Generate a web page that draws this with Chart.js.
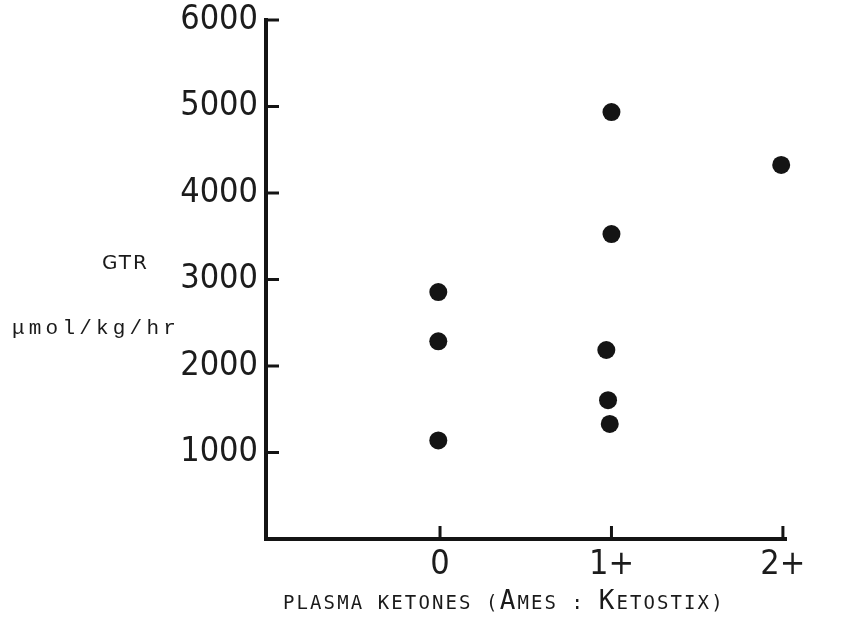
<!DOCTYPE html>
<html>
<head>
<meta charset="utf-8">
<script src="https://cdn.jsdelivr.net/npm/chart.js@4.4.1/dist/chart.umd.min.js"></script>
<style>
  html, body { margin: 0; padding: 0; background: #fff; }
  #wrap { position: relative; width: 844px; height: 642px; }
  #wrap canvas { position: absolute; left: 0; top: 0; }
  .lbl { position: absolute; color: #1a1a1a; white-space: nowrap; line-height: 1; }
  #gtr { left: 102px; top: 250px; font: 20px "DejaVu Sans", sans-serif; letter-spacing: 2px; }
  #unit { left: 12px; top: 317px; font: 21px "Liberation Mono", monospace; letter-spacing: 4.2px; }
  #xtitle { left: 283px; top: 587px; font-family: "DejaVu Sans Mono", monospace; letter-spacing: 2.1px; }
  #xtitle .sm { font-size: 19px; }
  #xtitle .big { font-size: 26px; }
</style>
</head>
<body>
<div id="wrap">
  <canvas id="grafico" width="844" height="642"></canvas>
  <div class="lbl" id="gtr">GTR</div>
  <div class="lbl" id="unit">μmol/kg/hr</div>
  <div class="lbl" id="xtitle"><span class="sm">PLASMA KETONES (</span><span class="big">A</span><span class="sm">MES : </span><span class="big">K</span><span class="sm">ETOSTIX)</span></div>
</div>
<script>
// ── DATOS ─────────────────────────────────────────────
const ketoneTicks  = [0, 1, 2];
const ketoneLabels = ['0', '1+', '2+'];
const gtrTicks     = [1000, 2000, 3000, 4000, 5000, 6000];

// x = ketone grade (small jitter as in the hand-drawn plot), y = GTR
const ketoneX = [-0.01, -0.01, -0.01, 1.0, 1.0, 0.97, 0.98, 0.99, 1.99];
const gtrY    = [2855, 2285, 1140, 4935, 3525, 2185, 1605, 1330, 4325];

const tinta = '#141414';
const fuenteNum = "'Liberation Sans Narrow', 'DejaVu Sans Condensed', sans-serif";

// ── MARCAS DE TICK HACIA DENTRO ───────────────────────
const marcasTick = {
  id: 'marcasTick',
  afterDatasetsDraw(chart) {
    const { ctx, chartArea, scales } = chart;
    ctx.save();
    ctx.strokeStyle = tinta;
    ctx.lineWidth = 3;
    gtrTicks.forEach(v => {
      const y = scales.y.getPixelForValue(v);
      ctx.beginPath();
      ctx.moveTo(chartArea.left, y);
      ctx.lineTo(chartArea.left + 13, y);
      ctx.stroke();
    });
    ketoneTicks.forEach(v => {
      const x = scales.x.getPixelForValue(v);
      ctx.beginPath();
      ctx.moveTo(x, chartArea.bottom);
      ctx.lineTo(x, chartArea.bottom - 13);
      ctx.stroke();
    });
    ctx.restore();
  }
};

// ── GRÁFICO ───────────────────────────────────────────
new Chart(document.getElementById('grafico'), {
  type: 'scatter',
  data: {
    datasets: [{
      data: ketoneX.map((x, i) => ({ x, y: gtrY[i] })),
      backgroundColor: tinta,
      borderWidth: 0,
      pointRadius: 9,
      pointHoverRadius: 9,
      clip: false
    }]
  },
  options: {
    responsive: false,
    animation: false,
    layout: { padding: { top: 20, right: 58, left: 0, bottom: 0 } },
    plugins: { legend: { display: false }, tooltip: { enabled: false } },
    scales: {
      x: {
        type: 'linear',
        min: -1.015,
        max: 2.018,
        afterBuildTicks: s => { s.ticks = ketoneTicks.map(v => ({ value: v })); },
        afterFit: s => { s.height = 103; s.paddingLeft = 0; s.paddingRight = 0; },
        grid: { drawOnChartArea: false, drawTicks: false },
        border: { color: tinta, width: 4 },
        ticks: {
          padding: 6,
          color: '#1c1c1c',
          font: { family: fuenteNum, size: 34 },
          callback: v => ketoneLabels[ketoneTicks.indexOf(v)] ?? ''
        }
      },
      y: {
        min: 0,
        max: 6000,
        afterBuildTicks: s => { s.ticks = gtrTicks.map(v => ({ value: v })); },
        afterFit: s => { s.width = 266; s.paddingTop = 0; s.paddingBottom = 0; },
        grid: { drawOnChartArea: false, drawTicks: false },
        border: { color: tinta, width: 4 },
        ticks: {
          padding: 8,
          color: '#1c1c1c',
          font: { family: fuenteNum, size: 34, lineHeight: 1 },
          callback: v => String(v)
        }
      }
    }
  },
  plugins: [marcasTick]
});
</script>
</body>
</html>
